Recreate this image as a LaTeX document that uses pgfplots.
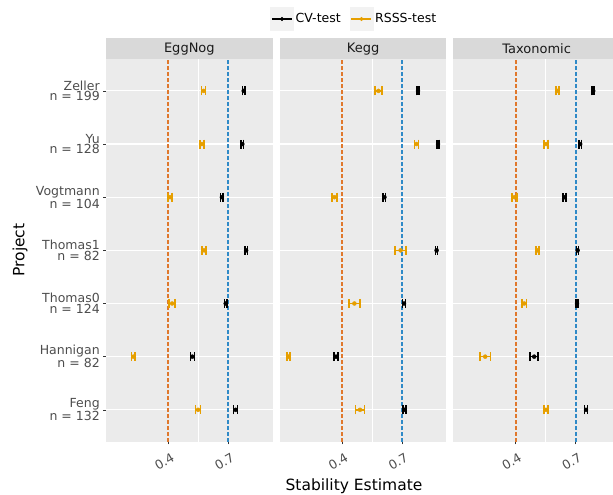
\documentclass[border=0pt]{standalone}
\usepackage{pgfplots}
\pgfplotsset{compat=1.18}
\usepackage{pgfplotstable}
\usepackage{fontspec}
\setmainfont{DejaVu Sans}
\definecolor{panelbg}{HTML}{EBEBEB}
\definecolor{stripbg}{HTML}{D9D9D9}
\definecolor{rsss}{HTML}{E69F00}
\definecolor{vorange}{HTML}{E0782C}
\definecolor{vblue}{HTML}{2F8AC8}
\definecolor{grey30}{HTML}{4D4D4D}
\definecolor{grey20}{HTML}{333333}
\definecolor{grey10}{HTML}{1A1A1A}
\definecolor{keybg}{HTML}{F2F2F2}

% y: 1=Feng 2=Hannigan 3=Thomas0 4=Thomas1 5=Vogtmann 6=Yu 7=Zeller
\pgfplotstableread{
y rsss rerr cv cerr
7 0.577 0.010 0.777 0.006
6 0.568 0.010 0.770 0.006
5 0.409 0.010 0.668 0.006
4 0.579 0.010 0.789 0.006
3 0.419 0.015 0.687 0.007
2 0.225 0.008 0.520 0.010
1 0.549 0.012 0.737 0.010
}\eggnog
\pgfplotstableread{
y rsss rerr cv cerr
7 0.582 0.018 0.780 0.006
6 0.772 0.010 0.880 0.005
5 0.362 0.012 0.612 0.006
4 0.693 0.028 0.873 0.005
3 0.462 0.027 0.710 0.007
2 0.133 0.008 0.370 0.010
1 0.490 0.022 0.712 0.008
}\kegg
\pgfplotstableread{
y rsss rerr cv cerr
7 0.610 0.008 0.788 0.005
6 0.552 0.010 0.723 0.006
5 0.395 0.012 0.645 0.007
4 0.510 0.008 0.710 0.005
3 0.443 0.012 0.707 0.005
2 0.248 0.027 0.493 0.020
1 0.552 0.010 0.752 0.008
}\taxo

\newcommand{\smallfont}{\fontsize{12.5}{13}\selectfont}
\pgfplotsset{
  facet/.style={
    scale only axis, anchor=south west,
    width=166.7pt, height=382.7pt,
    xmin=0.0885, xmax=0.922, ymin=0.4, ymax=7.6,
    xtick={0.4,0.7}, xticklabels={0.4,0.7}, minor xtick={0.55},
    ytick={1,2,3,4,5,6,7},
    xminorgrids, ymajorgrids,
    major grid style={white, line width=1.1pt},
    minor grid style={white, line width=0.55pt},
    axis line style={draw=none},
    axis background/.style={fill=panelbg},
    tick align=outside, major tick length=2.75pt, minor tick length=0pt,
    tick style={grey20, line width=0.55pt},
    xtick pos=bottom, ytick pos=left,
    xticklabel style={font=\smallfont, text=grey30, rotate=30, anchor=center, yshift=-13pt, xshift=-12pt},
    yticklabel style={font=\fontsize{12.5}{10.5}\selectfont, text=grey30, align=right, anchor=east},
    clip=false,
  },
  rsssplot/.style={only marks, mark=*, mark size=2pt, color=rsss,
    error bars/x dir=both, error bars/x explicit,
    error bars/error mark=|,
    error bars/error bar style={line width=1.5pt, rsss},
    error bars/error mark options={rsss, line width=1.5pt, mark size=4.5pt}},
  cvplot/.style={only marks, mark=*, mark size=2pt, color=black,
    error bars/x dir=both, error bars/x explicit,
    error bars/error mark=|,
    error bars/error bar style={line width=1.5pt, black},
    error bars/error mark options={black, line width=1.5pt, mark size=4.5pt}},
}
\newcommand{\reflines}{%
  \addplot[draw=vorange, mark=none, line width=2pt, dash pattern=on 4pt off 2pt, forget plot] coordinates {(0.4,0.4) (0.4,7.6)};
  \addplot[draw=vblue, mark=none, line width=2pt, dash pattern=on 4pt off 2pt, forget plot] coordinates {(0.7,0.4) (0.7,7.6)};
}

\begin{document}
\begin{tikzpicture}
\useasboundingbox (0,0) rectangle (613pt,495pt);
\clip (0,0) rectangle (613pt,495pt);

% ---------- EggNog ----------
\begin{axis}[facet, at={(106pt,53.3pt)},
  yticklabels={{Feng\\n = 132},{Hannigan\\n = 82},{Thomas0\\n = 124},{Thomas1\\n = 82},{Vogtmann\\n = 104},{Yu\\n = 128},{Zeller\\n = 199}}]
\reflines
\addplot[forget plot, rsssplot] table[x=rsss, y=y, x error=rerr] {\eggnog};
\addplot[forget plot, cvplot] table[x=cv, y=y, x error=cerr] {\eggnog};
\fill[stripbg] (rel axis cs:0,1) rectangle ([yshift=20.7pt]rel axis cs:1,1);
\node[font=\fontsize{13}{14}\selectfont, text=grey10] at ([yshift=10.35pt]rel axis cs:0.5,1) {EggNog};
\end{axis}

% ---------- Kegg ----------
\begin{axis}[facet, at={(279.7pt,53.3pt)}, yticklabels={}, major y tick style={draw=none},
  legend style={draw=none, fill=none, at={(0.447,1.1045)}, anchor=center,
    legend columns=2, font=\smallfont, inner sep=0pt,
    /tikz/every even column/.append style={column sep=7pt}},
  legend cell align=left]
\reflines
\addplot[forget plot, rsssplot] table[x=rsss, y=y, x error=rerr] {\kegg};
\addplot[forget plot, cvplot] table[x=cv, y=y, x error=cerr] {\kegg};
\addlegendimage{legend image code/.code={
  \fill[keybg] (0pt,-11.5pt) rectangle (23pt,11.5pt);
  \draw[black, line width=1.1pt] (1.5pt,0pt) -- (21.5pt,0pt);
  \fill[black] (11.5pt,0pt) circle (1.8pt);}}
\addlegendentry{CV-test}
\addlegendimage{legend image code/.code={
  \fill[keybg] (0pt,-11.5pt) rectangle (23pt,11.5pt);
  \draw[rsss, line width=1.1pt] (1.5pt,0pt) -- (21.5pt,0pt);
  \fill[rsss] (11.5pt,0pt) circle (1.8pt);}}
\addlegendentry{RSSS-test}
\fill[stripbg] (rel axis cs:0,1) rectangle ([yshift=20.7pt]rel axis cs:1,1);
\node[font=\fontsize{13}{14}\selectfont, text=grey10] at ([yshift=10.35pt]rel axis cs:0.5,1) {Kegg};
\end{axis}

% ---------- Taxonomic ----------
\begin{axis}[facet, at={(453.3pt,53.3pt)}, width=159.7pt, xmax=0.887,
  yticklabels={}, major y tick style={draw=none}]
\reflines
\addplot[forget plot, rsssplot] table[x=rsss, y=y, x error=rerr] {\taxo};
\addplot[forget plot, cvplot] table[x=cv, y=y, x error=cerr] {\taxo};
\fill[stripbg] (rel axis cs:0,1) rectangle ([yshift=20.7pt]rel axis cs:1,1);
\node[font=\fontsize{13}{14}\selectfont, text=grey10] at ([yshift=10.35pt]rel axis cs:0.5216,1) {Taxonomic};
\end{axis}

\node[rotate=90, font=\fontsize{15.5}{17}\selectfont, text=black] at (20pt,245pt) {Project};
\node[font=\fontsize{15.5}{17}\selectfont, text=black] at (354pt,9pt) {Stability Estimate};
\end{tikzpicture}
\end{document}
